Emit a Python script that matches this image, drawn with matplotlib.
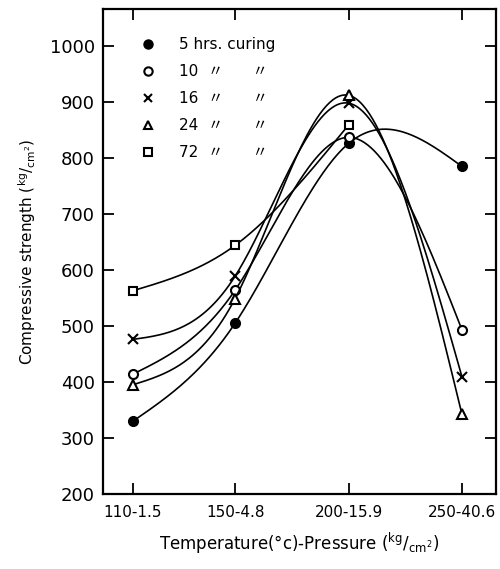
import numpy as np
import matplotlib.pyplot as plt
from matplotlib.lines import Line2D

conditions = ["110-1.5", "150-4.8", "200-15.9", "250-40.6"]
curing_5 = [330, 505, 826, 785]
curing_10 = [414, 564, 837, 493]
curing_16 = [476, 589, 898, 409]
curing_24 = [395, 549, 912, 342]
curing_72 = [563, 644, 859, np.nan]

# hand-drawn spacing of the four conditions along the axis
x_pos = np.array([0.0, 0.9, 1.9, 2.9])


def natural_spline(x, y, n=200):
    x = np.asarray(x, float)
    y = np.asarray(y, float)
    k = len(x)
    h = np.diff(x)
    A = np.zeros((k, k))
    b = np.zeros(k)
    A[0, 0] = A[-1, -1] = 1
    for i in range(1, k - 1):
        A[i, i - 1] = h[i - 1]
        A[i, i] = 2 * (h[i - 1] + h[i])
        A[i, i + 1] = h[i]
        b[i] = 6 * ((y[i + 1] - y[i]) / h[i] - (y[i] - y[i - 1]) / h[i - 1])
    M = np.linalg.solve(A, b)
    xs = np.linspace(x[0], x[-1], n)
    idx = np.clip(np.searchsorted(x, xs) - 1, 0, k - 2)
    x0, x1 = x[idx], x[idx + 1]
    hh = x1 - x0
    t0, t1 = x1 - xs, xs - x0
    ys = (M[idx] * t0**3 + M[idx + 1] * t1**3) / (6 * hh) \
        + (y[idx] / hh - M[idx] * hh / 6) * t0 \
        + (y[idx + 1] / hh - M[idx + 1] * hh / 6) * t1
    return xs, ys


series = [
    (curing_5, "o", "black", "5 hrs. curing"),
    (curing_10, "o", "white", "10  〃      〃"),
    (curing_16, "x", "black", "16  〃      〃"),
    (curing_24, "^", "white", "24  〃      〃"),
    (curing_72, "s", "white", "72  〃      〃"),
]

plt.rcParams["font.family"] = ["DejaVu Sans", "Noto Sans CJK JP"]

fig = plt.figure(figsize=(5.0, 5.69), dpi=100)
ax = fig.add_axes([0.206, 0.132, 0.786, 0.852])

handles = []
for vals, marker, face, label in series:
    vals = np.asarray(vals, float)
    ok = ~np.isnan(vals)
    xs, ys = natural_spline(x_pos[ok], vals[ok])
    ax.plot(xs, ys, color="black", lw=1.2)
    ax.plot(x_pos[ok], vals[ok], linestyle="none", marker=marker,
            mfc=face, mec="black", mew=1.5, ms=6.5 if marker != "s" else 6)
    handles.append(Line2D([], [], linestyle="none", marker=marker, mfc=face,
                          mec="black", mew=1.5, ms=6, label=label))

ax.set_xlim(-0.265, 3.2)
ax.set_ylim(200, 1066)
ax.set_xticks(x_pos)
ax.set_xticklabels(conditions, fontsize=11)
ax.set_yticks(range(200, 1001, 100))
ax.tick_params(axis="y", labelsize=13, pad=6)
ax.tick_params(direction="in", length=8, width=1.3, top=True, right=True)
ax.tick_params(axis="x", pad=8)
for s in ax.spines.values():
    s.set_linewidth(1.6)

ax.set_ylabel(r"Compressive strength ($^{\mathrm{kg}}/_{\mathrm{cm}^2}$)",
              fontsize=11, labelpad=8)
ax.set_xlabel(r"Temperature(°c)-Pressure ($^{\mathrm{kg}}/_{\mathrm{cm}^2}$)",
              fontsize=12, labelpad=8)

ax.legend(handles=handles, loc="upper left", bbox_to_anchor=(0.065, 0.97),
          frameon=False, fontsize=11, handlelength=0.8, handletextpad=1.6,
          labelspacing=0.78)

plt.savefig("out.png", dpi=100)
plt.close()
